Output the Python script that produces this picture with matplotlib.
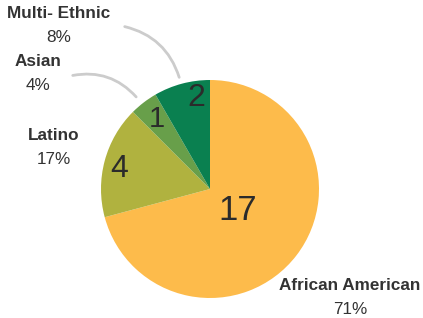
import matplotlib.pyplot as plt
from matplotlib.patches import FancyArrowPatch

plt.rcParams['font.family'] = ['Liberation Sans', 'DejaVu Sans']

groups = ['African American', 'Latino', 'Asian', 'Multi- Ethnic']
counts = [17, 4, 1, 2]
colors = ['#FDBB4B', '#B0B23F', '#689F4A', '#0A8050']

fig = plt.figure(figsize=(4.23, 3.18), dpi=100)
ax = fig.add_axes([0, 0, 1, 1])

cx, cy, r = 210, 129, 109
ax.pie(counts, colors=colors, startangle=90, counterclock=False,
       center=(cx, cy), radius=r, frame=True)
ax.set_xlim(0, 423)
ax.set_ylim(0, 318)
ax.set_aspect('equal')
ax.axis('off')

total = sum(counts)
pcts = ['%d%%' % round(c * 100 / total) for c in counts]

# numbers inside the slices
inner = [(238, 107, 25), (119, 149, 23), (157, 199, 21), (196, 220, 23)]
for (x, y, s), c in zip(inner, counts):
    ax.text(x, y, str(c), ha='center', va='center', fontsize=s, color='#2b2b2b')

# outside labels
outer = [(350, 33), (54, 182), (38, 256), (59, 305)]
for (x, y), g, p in zip(outer, groups, pcts):
    ax.text(x, y, g, ha='center', va='center', fontsize=12.3, fontweight='bold', color='#333333')
    ax.text(x, y - 24, p, ha='center', va='center', fontsize=12.3, color='#333333')

# leader lines
for start, end, rad in [((122, 292), (180, 238), -0.3), ((70, 242), (138, 219), -0.3)]:
    ax.add_patch(FancyArrowPatch(start, end, connectionstyle='arc3,rad=%s' % rad,
                                 arrowstyle='-', color='#cccccc', lw=2))

fig.savefig('out.png', dpi=100)
